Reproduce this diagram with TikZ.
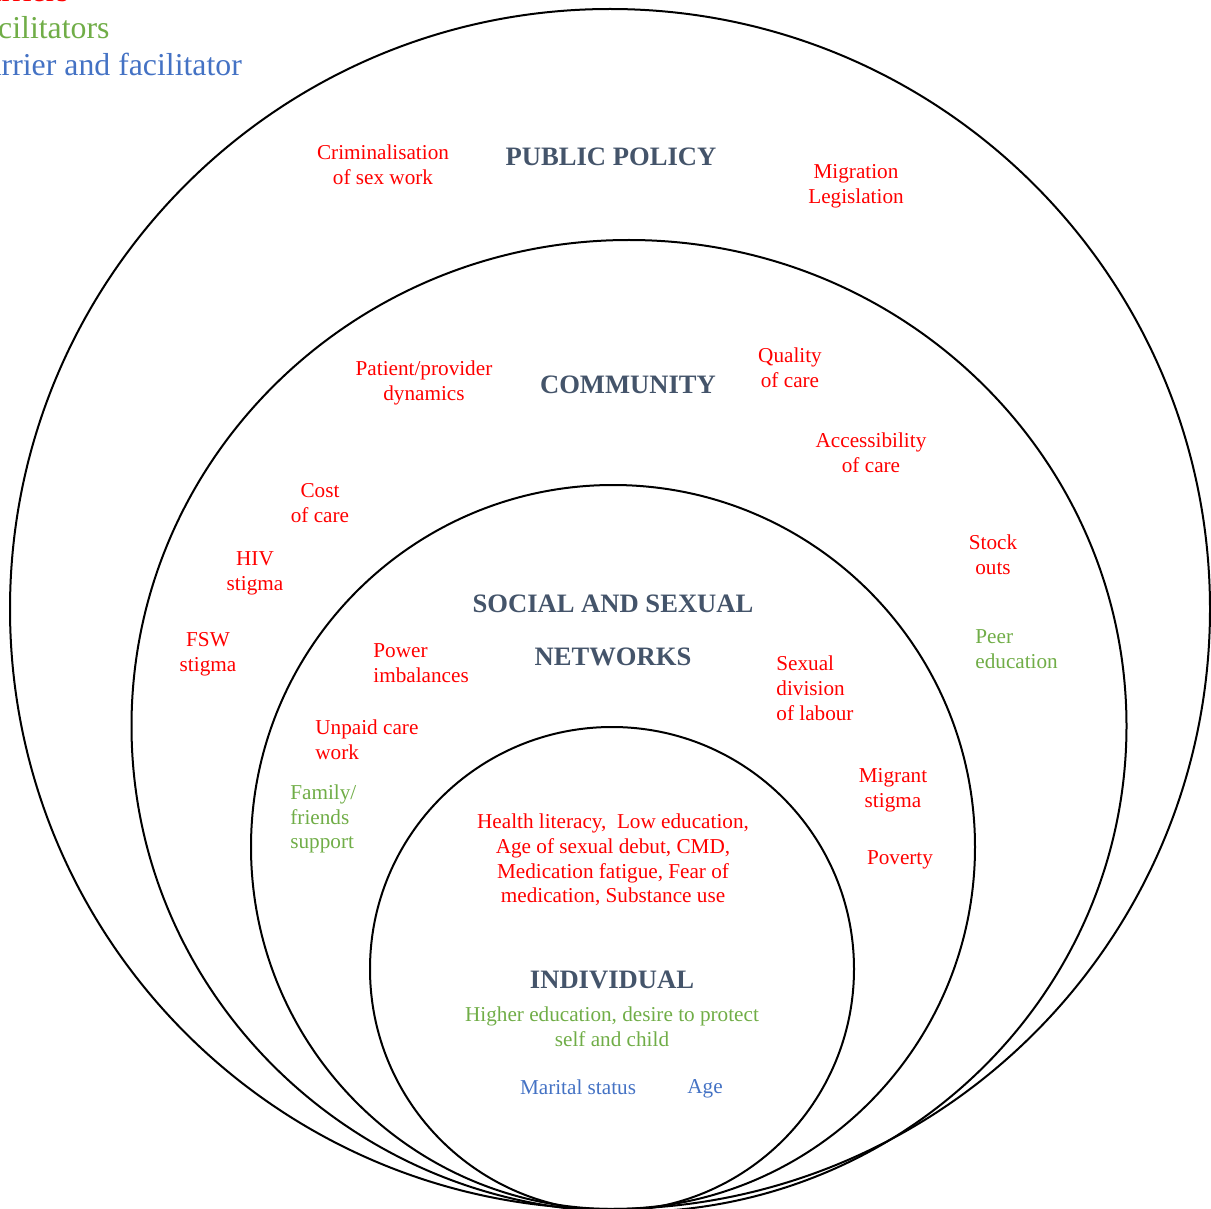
\documentclass[tikz,border=0pt]{standalone}
\usepackage{fontspec}
\setmainfont{Liberation Serif}
\definecolor{barrier}{HTML}{FF0000}
\definecolor{facil}{HTML}{70AD47}
\definecolor{both}{HTML}{4472C4}
\definecolor{level}{HTML}{44546A}
\begin{document}
\begin{tikzpicture}[x=0.5pt,y=-0.5pt,
  ring/.style={draw=black,line width=1pt},
  lbl/.style={inner sep=0pt,align=center,font=\fontsize{10.6}{12.4}\selectfont},
  lbll/.style={lbl,align=left},
  bar/.style={text=barrier},
  fac/.style={text=facil},
  bth/.style={text=both},
  head/.style={inner sep=0pt,text=level,font=\fontsize{13.3}{16}\selectfont\bfseries},
  key/.style={inner sep=0pt,anchor=base west,font=\fontsize{15.9}{19}\selectfont}]
\useasboundingbox (0,0) rectangle (1211,1209);
\clip (0,0) rectangle (1211,1209);

% nested levels of the model
\draw[ring] (610,609) circle[radius=300pt];
\draw[ring] (629,726) ellipse[x radius=248.75pt,y radius=243pt];
\draw[ring] (613,847) circle[radius=181pt];
\draw[ring] (612,969) circle[radius=121pt];

% key
\node[key,text=barrier] (k1) at (-34,2) {Barriers};
\node[key,text=facil] (k2) at (-34,39) {Facilitators};
\node[key,text=both] (k3) at (-34,76) {Barrier and facilitator};

% public policy
\node[head] (pp) at (611,157) {PUBLIC POLICY};
\node[lbl,bar] (crim) at (383,165) {Criminalisation\\of sex work};
\node[lbl,bar] (migl) at (856,186) {Migration\\Legislation};

% community
\node[head] (com) at (628,385) {COMMUNITY};
\node[lbl,bar] (pat) at (424,383) {Patient/provider\\dynamics};
\node[lbl,bar] (qual) at (790,368) {Quality\\of care};
\node[lbl,bar] (acc) at (871,453) {Accessibility\\of care};
\node[lbl,bar] (cost) at (320,503) {Cost\\of care};
\node[lbl,bar] (hiv) at (255,573) {HIV\\stigma};
\node[lbl,bar] (fsw) at (208,654) {FSW\\stigma};
\node[lbl,bar] (stock) at (993,555) {Stock\\outs};
\node[lbll,fac,anchor=west] (peer) at (975,649) {Peer\\education};

% social and sexual networks
\node[head] (soc1) at (613,604) {SOCIAL AND SEXUAL};
\node[head] (soc2) at (613,657) {NETWORKS};
\node[lbll,bar,anchor=west] (pow) at (373,663) {Power\\imbalances};
\node[lbll,bar,anchor=west] (sex) at (776,688) {Sexual\\division\\of labour};
\node[lbll,bar,anchor=west] (unp) at (315,740) {Unpaid care\\work};
\node[lbl,bar] (migs) at (893,790) {Migrant\\stigma};
\node[lbll,fac,anchor=west] (fam) at (290,819) {Family/\\friends\\support};
\node[lbl,bar] (pov) at (900,860) {Poverty};

% individual
\node[lbl,bar] (ind1) at (613,860) {Health literacy,\ \ Low education,\\Age of sexual debut, CMD,\\Medication fatigue, Fear of\\medication, Substance use};
\node[head] (ind) at (612,980) {INDIVIDUAL};
\node[lbl,fac] (ind2) at (612,1027) {Higher education, desire to protect\\self and child};
\node[lbl,bth] (mar) at (578,1087) {Marital status};
\node[lbl,bth] (age) at (705,1089) {Age};
\end{tikzpicture}
\end{document}
